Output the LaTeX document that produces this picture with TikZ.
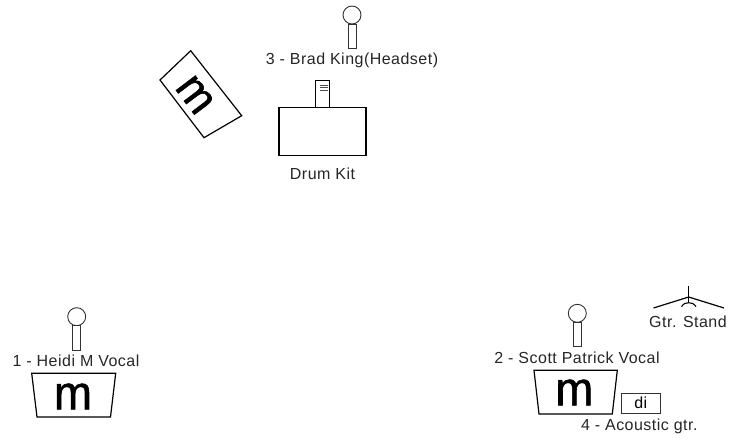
\documentclass[tikz,border=0pt]{standalone}
\usepackage{fontspec}
\setmainfont{Liberation Sans}
\newfontfamily\captfont[LetterSpace=3]{Liberation Sans}
\newfontfamily\monfont[FakeBold=1.2,FakeStretch=0.95]{Liberation Sans}
\usetikzlibrary{positioning}
\tikzset{capt/.style={inner sep=0pt, font=\captfont\fontsize{16}{16}\selectfont, text=black!85},
micbody/.style={rectangle, draw=black!80, fill=white, line width=.9pt, inner sep=0pt, outer sep=0pt, minimum width=8pt, minimum height=24.5pt},
michead/.style={circle, draw=black!80, fill=white, line width=.9pt, inner sep=0pt, outer sep=0pt, minimum size=18pt},
wedge/.style={draw=black, line width=1.2pt, fill=white, line join=miter},
letter/.style={inner sep=0pt, font=\monfont\fontsize{48}{48}\selectfont},
kit/.style={rectangle, draw=black, line width=1.1pt, fill=white, inner sep=0pt, outer sep=0pt}}

\begin{document}
\begin{tikzpicture}[x=1pt,y=-1pt]
  \useasboundingbox (0,0) rectangle (729,439);

  % drummer
  \node (micthree) [michead] at (352,15) {};
  \node (stemthree) [micbody, below=0pt of micthree] {};
  \node (capthree) [capt] at (352,60) {3 - Brad King(Headset)};
  \node (drum) [kit, minimum width=87pt, minimum height=48.5pt] at (322.5,131.5) {};
  \node (throne) [kit, minimum width=13.5pt, minimum height=26.5pt, above=0pt of drum] {};
  \draw [black!70] (320,85) -- (327.5,85);
  \draw [black!70] (320,87.5) -- (327.5,87.5);
  \draw [black!70] (320,90) -- (327.5,90);
  \node (capdrum) [capt] at (322.5,174) {Drum Kit};
  \draw [wedge] (190.7,50.7) -- (241.7,115.7) -- (204,137.7) -- (160,80) -- cycle;
  \node (mthree) [letter, rotate=-53, font=\monfont\fontsize{46}{46}\selectfont] at (195,95) {m};

  % left vocal
  \node (micone) [michead] at (76.7,316.7) {};
  \node (stemone) [micbody, below=0pt of micone] {};
  \node (capone) [capt] at (76,360.7) {1 - Heidi M Vocal};
  \draw [wedge] (31.7,373.3) -- (115.7,373.3) -- (110.5,417) -- (37,417) -- cycle;
  \node (mone) [letter] at (73,396.5) {m};

  % right vocal
  \node (mictwo) [michead] at (577.3,313.3) {};
  \node (stemtwo) [micbody, below=0pt of mictwo] {};
  \node (captwo) [capt] at (577,357.7) {2 - Scott Patrick Vocal};
  \draw [wedge] (534,370.3) -- (617.3,370.3) -- (612.3,414) -- (539,414) -- cycle;
  \node (mtwo) [letter] at (574.3,392.5) {m};
  \node (dibox) [rectangle, draw=black!80, inner sep=0pt, minimum width=38.5pt, minimum height=19.5pt, font=\captfont\fontsize{16}{16}\selectfont] at (640.8,403.2) {di};
  \node (capfour) [capt] at (639.3,426) {4 - Acoustic gtr.};

  % stand
  \coordinate (hub) at (688.7,297);
  \coordinate (top) at (688.7,286);
  \coordinate (feetl) at (653.5,308);
  \coordinate (feetr) at (724,308);
  \coordinate (arctop) at (688.7,302.7);
  \draw [line width=1.2pt] (top) -- (arctop);
  \draw [line width=1.2pt] (feetl) -- (hub) -- (feetr);
  \draw [line width=1.1pt] (681.5,306.7) .. controls (683.5,303.5) and (686,302.7) .. (arctop) .. controls (691.5,302.7) and (694,303.5) .. (696,306.7);
  \node (capstand) [capt] at (688,321.7) {Gtr. Stand};
\end{tikzpicture}
\end{document}
